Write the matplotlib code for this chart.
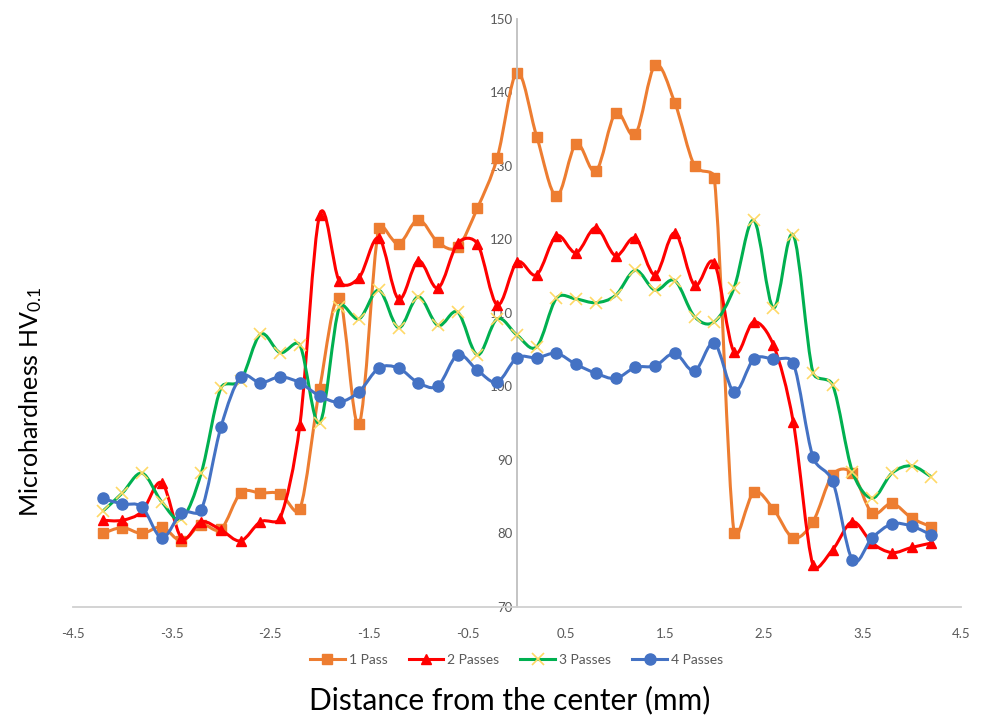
import numpy as np
import matplotlib
matplotlib.use("Agg")
from matplotlib import pyplot as plt
from matplotlib.path import Path
from matplotlib.patches import PathPatch
from matplotlib.lines import Line2D

plt.rcParams['font.family'] = ['Lato', 'DejaVu Sans']
plt.rcParams['mathtext.default'] = 'regular'

# Distance from the center (mm), one reading every 0.2 mm
dist = [-4.2, -4.0, -3.8, -3.6, -3.4, -3.2, -3.0, -2.8, -2.6, -2.4, -2.2,
        -2.0, -1.8, -1.6, -1.4, -1.2, -1.0, -0.8, -0.6, -0.4, -0.2,
        0.0, 0.2, 0.4, 0.6, 0.8, 1.0, 1.2, 1.4, 1.6, 1.8, 2.0,
        2.2, 2.4, 2.6, 2.8, 3.0, 3.2, 3.4, 3.6, 3.8, 4.0, 4.2]

pass1 = [80.0, 80.8, 80.0, 80.9, 79.0, 81.2, 80.6, 85.5, 85.5, 85.4, 83.3,
         99.7, 112.0, 94.9, 121.6, 119.4, 122.7, 119.6, 119.0, 124.3, 131.1,
         142.7, 134.0, 125.9, 133.0, 129.3, 137.2, 134.3, 143.7, 138.6, 130.0, 128.4,
         80.1, 85.6, 83.3, 79.4, 81.6, 88.0, 88.2, 82.8, 84.1, 82.1, 80.9]

pass2 = [81.8, 81.8, 83.0, 86.9, 79.4, 81.6, 80.5, 79.0, 81.6, 82.1, 94.8,
         123.3, 114.3, 114.8, 120.2, 111.9, 117.1, 113.4, 119.5, 119.4, 111.1,
         116.9, 115.2, 120.5, 118.2, 121.6, 117.8, 120.2, 115.2, 120.9, 113.8, 116.8,
         104.7, 108.8, 105.6, 95.2, 75.7, 77.8, 81.6, 78.7, 77.4, 78.1, 78.7]

pass3 = [83.0, 85.5, 88.2, 84.3, 82.0, 88.2, 99.8, 100.8, 107.1, 104.6, 105.6,
         95.0, 110.8, 109.2, 113.1, 108.0, 112.2, 108.3, 110.1, 104.3, 109.2,
         107.0, 105.4, 112.0, 111.9, 111.4, 112.4, 115.8, 113.1, 114.4, 109.5, 108.8,
         113.4, 122.6, 110.7, 120.6, 101.9, 100.2, 88.4, 84.8, 88.2, 89.2, 87.7]

pass4 = [84.8, 84.0, 83.6, 79.4, 82.8, 83.2, 94.5, 101.3, 100.5, 101.3, 100.5,
         98.7, 97.9, 99.3, 102.5, 102.5, 100.5, 100.1, 104.3, 102.2, 100.6,
         103.9, 103.9, 104.5, 103.0, 101.8, 101.1, 102.6, 102.8, 104.5, 102.1, 105.9,
         99.3, 103.7, 103.7, 103.2, 90.4, 87.1, 76.4, 79.4, 81.3, 81.0, 79.8]

labels = ['1 Pass', '2 Passes', '3 Passes', '4 Passes']
xticks = [-4.5, -3.5, -2.5, -1.5, -0.5, 0.5, 1.5, 2.5, 3.5, 4.5]
yticks = [70, 80, 90, 100, 110, 120, 130, 140, 150]

# rough pixels per data unit, only used to shape the smoothing handles
SX, SY = 98.7, 7.35


def clip(v, maxlen):
    l = np.hypot(*v)
    if l > maxlen:
        v = v * maxlen / l
    return v


def smooth_path(x, y):
    """Smoothed line (Excel look): Catmull-Rom Bezier, handles kept short"""
    pts = np.column_stack([np.asarray(x) * SX, np.asarray(y) * SY])
    n = len(pts)
    verts = [pts[0]]
    codes = [Path.MOVETO]
    for i in range(n - 1):
        p0 = pts[max(i - 1, 0)]
        p1 = pts[i]
        p2 = pts[i + 1]
        p3 = pts[min(i + 2, n - 1)]
        seg = np.hypot(*(p2 - p1))
        c1 = p1 + clip((p2 - p0) / 6.0, 0.45 * seg)
        c2 = p2 - clip((p3 - p1) / 6.0, 0.45 * seg)
        verts += [c1, c2, p2]
        codes += [Path.CURVE4] * 3
    verts = np.array(verts) / np.array([SX, SY])
    return Path(verts, codes)


fig = plt.figure(figsize=(9.86, 7.18), dpi=100)
ax = fig.add_axes([0.074, 0.1546, 0.9006, 0.819])

styles = [
    dict(color='#ED7D31', marker='s', mfc='#ED7D31', mec='#ED7D31', ms=7.5, mew=1),
    dict(color='#FF0000', marker='^', mfc='#FF0000', mec='#FF0000', ms=7.5, mew=1),
    dict(color='#00B050', marker='x', mfc='#FFD966', mec='#FFD966', ms=9, mew=1.2),
    dict(color='#4472C4', marker='o', mfc='#4472C4', mec='#4472C4', ms=8, mew=1),
]
series = [pass1, pass2, pass3, pass4]

handles = []
for k, (vals, st) in enumerate(zip(series, styles)):
    z = 2 + k
    patch = PathPatch(smooth_path(dist, vals), facecolor='none',
                      edgecolor=st['color'], lw=2.2, zorder=z)
    ax.add_patch(patch)
    ax.plot(dist, vals, linestyle='none', marker=st['marker'], ms=st['ms'],
            mfc=st['mfc'], mec=st['mec'], mew=st['mew'], zorder=z + 0.5)
    handles.append(Line2D([], [], color=st['color'], lw=2.2, marker=st['marker'],
                          ms=st['ms'], mfc=st['mfc'], mec=st['mec'], mew=st['mew']))

ax.set_xlim(-4.5, 4.5)
ax.set_ylim(70, 150)
ax.set_xticks(xticks)
ax.set_xticklabels([f'{v:g}' for v in xticks])
ax.set_yticks(yticks)

for s in ['top', 'right']:
    ax.spines[s].set_visible(False)
ax.spines['left'].set_position(('data', 0))
ax.spines['left'].set_color('#bfbfbf')
ax.spines['left'].set_linewidth(1.3)
ax.spines['bottom'].set_color('#d0d0d0')
ax.spines['bottom'].set_linewidth(1.3)
ax.tick_params(axis='both', length=0, labelsize=9.5, labelcolor='#595959')
ax.tick_params(axis='x', pad=15)
ax.tick_params(axis='y', pad=3)

fig.legend(handles, labels, loc='center', bbox_to_anchor=(0.524, 0.081), ncol=4,
           frameon=False, fontsize=10, labelcolor='#595959', handlelength=2.5,
           handletextpad=0.3, columnspacing=1.5)

fig.text(0.517, 0.025, 'Distance from the center (mm)', ha='center', va='center',
         fontsize=21.5, color='black')
fig.text(0.031, 0.44, 'Microhardness HV$_{0.1}$', ha='center', va='center',
         rotation=90, fontsize=18, color='black')

fig.savefig('out.png', dpi=100)
